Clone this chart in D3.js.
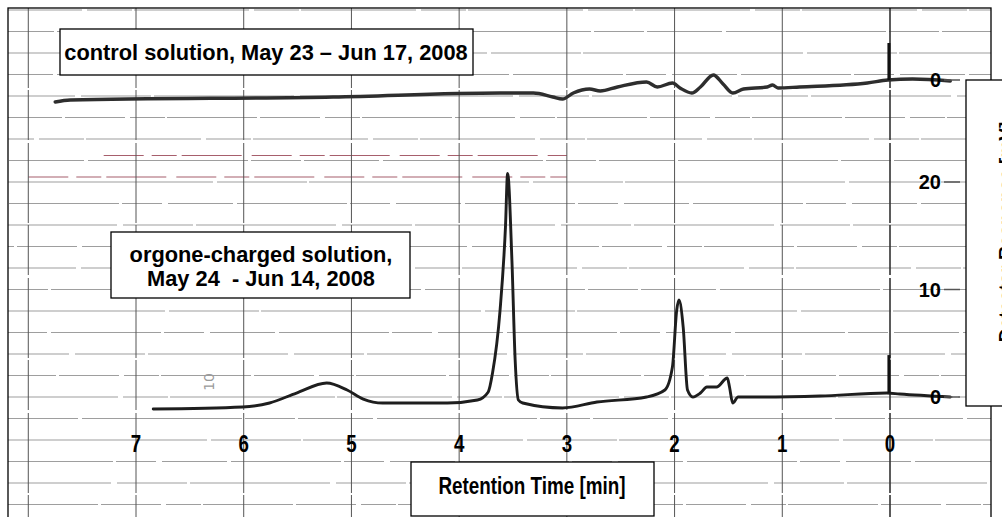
<!DOCTYPE html>
<html><head><meta charset="utf-8">
<script src="https://cdn.jsdelivr.net/npm/d3@7"></script>
<style>
html,body{margin:0;padding:0;background:#fff;overflow:hidden}
svg{display:block}
</style></head>
<body>
<svg id="c" width="1002" height="517"></svg>
<script>
// ---------- data ----------
const timeTicks = [7, 6, 5, 4, 3, 2, 1, 0];
const signalTicks = [0, 10, 20];
const controlTicks = [0];

// orgone-charged solution (lower trace), time [min] and signal
const orgoneTime   = [6.84, 6.01, 5.76, 5.51, 5.23, 5.04, 4.89, 4.71, 4.11, 3.83, 3.73, 3.69, 3.62, 3.57, 3.55, 3.51, 3.48, 3.45, 3.41, 3.04, 2.72, 2.26, 2.09, 2.02, 1.98, 1.96, 1.92, 1.88, 1.83, 1.76, 1.70, 1.61, 1.51, 1.49, 1.46, 1.41, 1.21, 0.65, 0.03, -0.09, -0.56];
const orgoneSignal = [-1.12, -0.93, -0.56, 0.37, 1.30, 0.65, -0.19, -0.56, -0.56, -0.28, 0.47, 2.23, 8.09, 15.8, 20.8, 12.7, 3.44, -0.28, -0.56, -1.02, -0.47, 0.0, 0.65, 2.79, 8.09, 9.02, 6.51, 0.65, 0.0, 0.37, 0.93, 0.93, 1.77, 0.93, -0.56, 0.0, 0.0, 0.09, 0.37, 0.28, 0.0];

// control solution (upper trace)
const controlTime   = [7.75, 7.61, 5.17, 3.62, 3.31, 3.13, 3.04, 2.94, 2.79, 2.69, 2.53, 2.26, 2.16, 2.02, 1.95, 1.84, 1.76, 1.64, 1.55, 1.46, 1.36, 1.14, 1.09, 1.04, 0.84, 0.21, 0.02, -0.21, -0.56];
const controlSignal = [-2.05, -1.86, -1.58, -1.21, -1.21, -1.58, -1.77, -1.21, -0.84, -1.02, -0.65, -0.19, -0.65, -0.28, -0.74, -1.21, -0.65, 0.47, -0.37, -1.21, -0.84, -0.65, -0.47, -0.74, -0.65, -0.28, 0.0, 0.09, -0.09];

// injection spikes at t = 0
const spikeTime = 0.01;
const orgoneSpike = [0.37, 3.9];
const controlSpike = [0.0, 3.44];

const gridSignal = d3.range(-10, 37, 2);
const gridTime = d3.range(0, 9, 1);
const redGrid = [22, 20];

const controlLabel = "control solution, May 23 \u2013 Jun 17, 2008";
const orgoneLabel = ["orgone-charged solution,", "May 24  - Jun 14, 2008"];
const xTitle = "Retention Time [min]";
const yTitle = "Detector Response [mV]";

// ---------- scales ----------
const svg = d3.select("#c");
const x = d3.scaleLinear().domain([0, 7]).range([890, 136]);
const y = d3.scaleLinear().domain([0, 20]).range([397, 182]);
const yCtrl = d3.scaleLinear().domain([0, 20]).range([80, -135]);

const B = {l: 8, t: 8, r: 991};
const font = "Liberation Sans, Arial, sans-serif";

// ---------- grid ----------
const dashes = ["90,3,60,5,35,2", "140,6,70,3", "65,4,110,3,40,6", "220,4,90,2", "50,3,75,4,160,3", "115,5,45,2"];
svg.append("g").selectAll("line").data(gridSignal).join("line")
  .attr("x1", B.l).attr("x2", B.r)
  .attr("y1", d => y(d)).attr("y2", d => y(d))
  .attr("stroke", "#8e8e8e")
  .attr("stroke-width", 1.2)
  .attr("stroke-dasharray", (d, i) => dashes[i % dashes.length])
  .attr("stroke-dashoffset", (d, i) => (i * 37) % 90)
  .attr("opacity", 0.85);
svg.append("g").selectAll("line").data(redGrid).join("line")
  .attr("x1", (d, i) => x(i === 0 ? 7.3 : 8)).attr("x2", x(3.0))
  .attr("y1", d => y(d) - 5).attr("y2", d => y(d) - 5)
  .attr("stroke", "#8a2a3c").attr("stroke-width", 1.2)
  .attr("stroke-dasharray", "40,8,25,5,60,10").attr("opacity", 0.75);

svg.append("g").selectAll("line").data(gridTime).join("line")
  .attr("x1", d => x(d)).attr("x2", d => x(d))
  .attr("y1", B.t).attr("y2", 517)
  .attr("stroke", d => d === 0 ? "#333" : "#555")
  .attr("stroke-width", d => d === 0 ? 1.6 : 1)
  .attr("stroke-dasharray", "80,2,50,3");

// handwritten mark
svg.append("text").attr("transform", `translate(${x(6.28)},${y(1.4)}) rotate(-90)`)
  .attr("font-family", "DejaVu Sans").attr("font-size", 14).attr("fill", "#9a9a9a")
  .attr("text-anchor", "middle").text("10");

// ---------- traces ----------
const orgone = orgoneTime.map((t, i) => [t, orgoneSignal[i]]);
const control = controlTime.map((t, i) => [t, controlSignal[i]]);

const lineO = d3.line().x(d => x(d[0])).y(d => y(d[1])).curve(d3.curveMonotoneX);
const lineC = d3.line().x(d => x(d[0])).y(d => yCtrl(d[1])).curve(d3.curveMonotoneX);

svg.append("path").datum(control).attr("d", lineC)
  .attr("fill", "none").attr("stroke", "#2e2e2e").attr("stroke-width", 3.4)
  .attr("stroke-linejoin", "round").attr("stroke-linecap", "round");
svg.append("path").datum(orgone).attr("d", lineO)
  .attr("fill", "none").attr("stroke", "#1e1e1e").attr("stroke-width", 2.9)
  .attr("stroke-linejoin", "round").attr("stroke-linecap", "round");

svg.append("line").attr("x1", x(spikeTime)).attr("x2", x(spikeTime))
  .attr("y1", yCtrl(controlSpike[0])).attr("y2", yCtrl(controlSpike[1]))
  .attr("stroke", "#111").attr("stroke-width", 3);
svg.append("line").attr("x1", x(spikeTime)).attr("x2", x(spikeTime))
  .attr("y1", y(orgoneSpike[0])).attr("y2", y(orgoneSpike[1]))
  .attr("stroke", "#111").attr("stroke-width", 3);

// ---------- y tick labels ----------
function yTicks(scale, ticks) {
  const g = svg.append("g");
  g.selectAll("text").data(ticks).join("text")
    .attr("x", 941).attr("y", d => scale(d)).attr("dy", "0.36em")
    .attr("text-anchor", "end").attr("font-family", font)
    .attr("font-weight", "bold").attr("font-size", 20).attr("fill", "#000")
    .text(d => d);
  g.selectAll("line").data(ticks).join("line")
    .attr("x1", 944).attr("x2", 960).attr("y1", d => scale(d)).attr("y2", d => scale(d))
    .attr("stroke", "#555").attr("stroke-width", 1.5);
}
yTicks(y, signalTicks);
yTicks(yCtrl, controlTicks);

// ---------- x tick labels (condensed bold) ----------
svg.append("g").selectAll("text").data(timeTicks).join("text")
  .attr("transform", d => `translate(${x(d)},452) scale(0.78,1)`)
  .attr("text-anchor", "middle").attr("font-family", font)
  .attr("font-weight", "bold").attr("font-size", 24).attr("fill", "#000")
  .text(d => d);

// ---------- boxes ----------
function box(x0, y0, w, h) {
  svg.append("rect").attr("x", x0).attr("y", y0).attr("width", w).attr("height", h)
    .attr("fill", "#fff").attr("stroke", "#000").attr("stroke-width", 1.3);
}
box(60, 29, 413, 46);
svg.append("text").attr("x", 266).attr("y", 60).attr("text-anchor", "middle")
  .attr("font-family", font).attr("font-weight", "bold").attr("font-size", 21.8)
  .text(controlLabel);

box(111, 232, 299, 66);
svg.append("g").selectAll("text").data(orgoneLabel).join("text")
  .attr("x", 261).attr("y", (d, i) => 262 + i * 24).attr("text-anchor", "middle")
  .attr("font-family", font).attr("font-weight", "bold").attr("font-size", 21.8)
  .attr("xml:space", "preserve").style("white-space", "pre")
  .text(d => d);

box(411, 462, 243, 54);
svg.append("text").attr("transform", "translate(532,494) scale(0.82,1)").attr("text-anchor", "middle")
  .attr("font-family", font).attr("font-weight", "bold").attr("font-size", 23)
  .text(xTitle);

// outer border
svg.append("rect").attr("x", B.l).attr("y", B.t).attr("width", B.r - B.l).attr("height", 540)
  .attr("fill", "none").attr("stroke", "#000").attr("stroke-width", 1.3);

// right y-title box (clipped by page edge)
box(966, 80, 60, 326);
svg.append("text").attr("transform", "translate(1012,232) rotate(-90)")
  .attr("text-anchor", "middle").attr("font-family", font)
  .attr("font-weight", "bold").attr("font-size", 19).text(yTitle);
</script>
</body></html>
